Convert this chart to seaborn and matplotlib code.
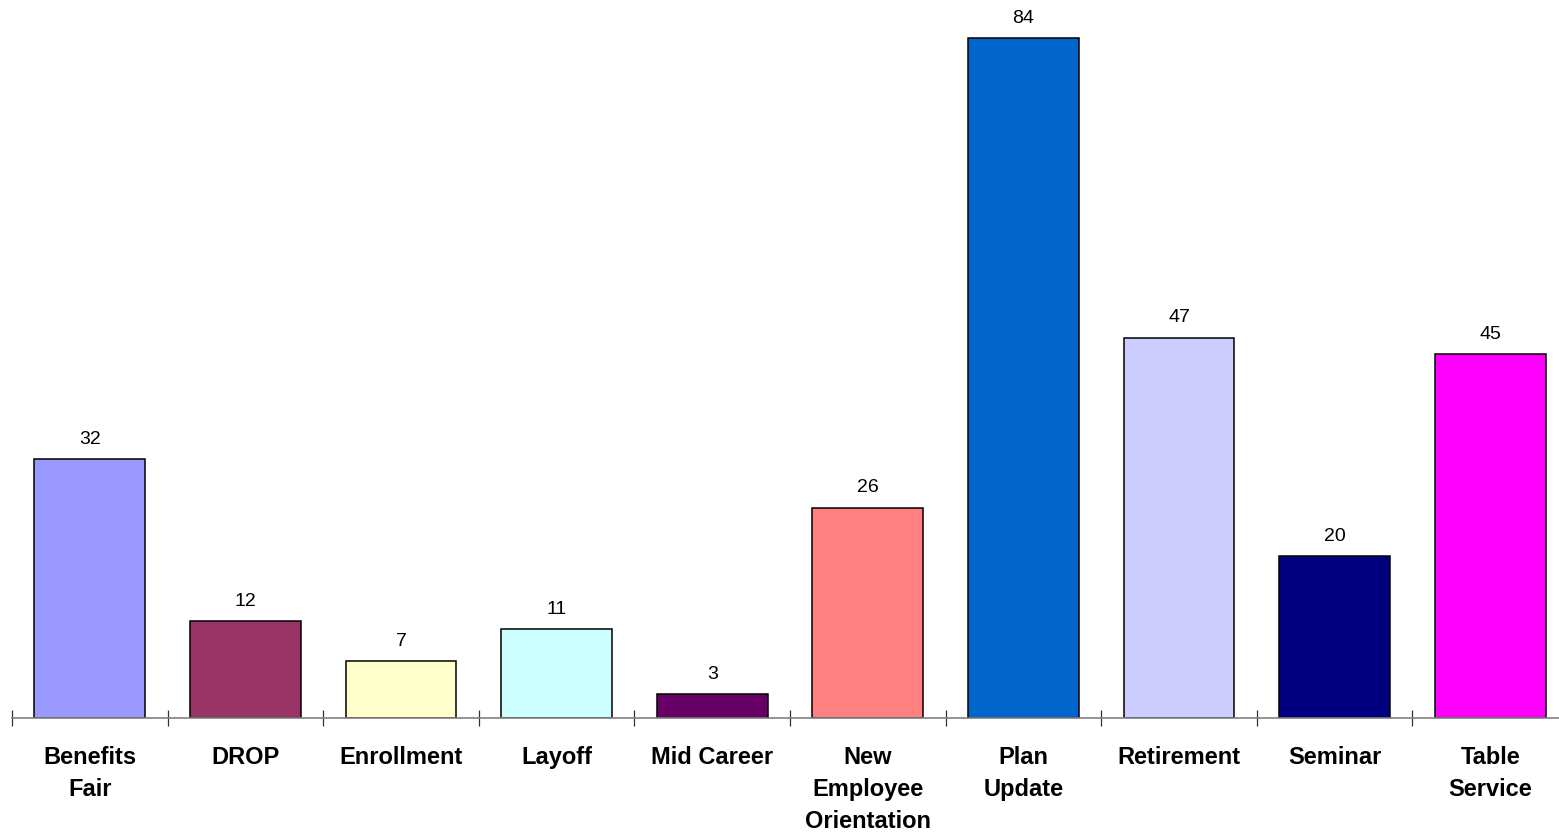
import matplotlib
matplotlib.use("Agg")
import matplotlib.pyplot as plt
from matplotlib.ticker import FixedLocator
import seaborn as sns
import pandas as pd

categories = ["Benefits\nFair", "DROP", "Enrollment", "Layoff", "Mid Career",
              "New\nEmployee\nOrientation", "Plan\nUpdate", "Retirement",
              "Seminar", "Table\nService"]
counts = [32, 12, 7, 11, 3, 26, 84, 47, 20, 45]
colors = ["#9999FF", "#993366", "#FFFFCC", "#CCFFFF", "#660066",
          "#FF8080", "#0066CC", "#CCCCFF", "#000080", "#FF00FF"]

sns.set_theme(style="white")
plt.rcParams["font.family"] = ["Liberation Sans", "DejaVu Sans"]
plt.rcParams["text.color"] = "black"
plt.rcParams["xtick.color"] = "black"
plt.rcParams["xtick.labelcolor"] = "black"

df = pd.DataFrame({"category": categories, "count": counts})

fig = plt.figure(figsize=(15.59, 8.34), dpi=100)
ax = fig.add_axes([12 / 1559, 116 / 834, 1 - 12 / 1559, 1 - 116 / 834])

sns.barplot(data=df, x="category", y="count", hue="category",
            palette=colors, legend=False, width=0.713,
            edgecolor="black", linewidth=1.1, saturation=1, ax=ax)

for patch, value in zip(ax.patches, counts):
    ax.annotate(f"{value}",
                (patch.get_x() + patch.get_width() / 2, patch.get_height()),
                xytext=(0, 8), textcoords="offset points",
                ha="center", va="bottom", fontsize=14, color="black")

ax.set_xlim(-0.5, (1559 - 12) / 155.6 - 0.5)
ax.set_ylim(0, 718 / 8.095)
ax.set_xlabel("")
ax.set_ylabel("")
ax.set_yticks([])

for side in ["left", "right", "top"]:
    ax.spines[side].set_visible(False)
ax.spines["bottom"].set_color("#808080")
ax.spines["bottom"].set_linewidth(1.2)

ax.tick_params(axis="x", which="major", length=0, pad=20,
               labelsize=17, labelcolor="black")
for lbl in ax.get_xticklabels():
    lbl.set_fontweight("bold")
    lbl.set_linespacing(1.5)
    lbl.set_verticalalignment("top")

ax.xaxis.set_minor_locator(FixedLocator([i - 0.5 for i in range(len(categories) + 1)]))
ax.tick_params(axis="x", which="minor", bottom=True, direction="inout",
               length=12, width=0.9, color="#333333")

fig.savefig("out.png", dpi=100)
